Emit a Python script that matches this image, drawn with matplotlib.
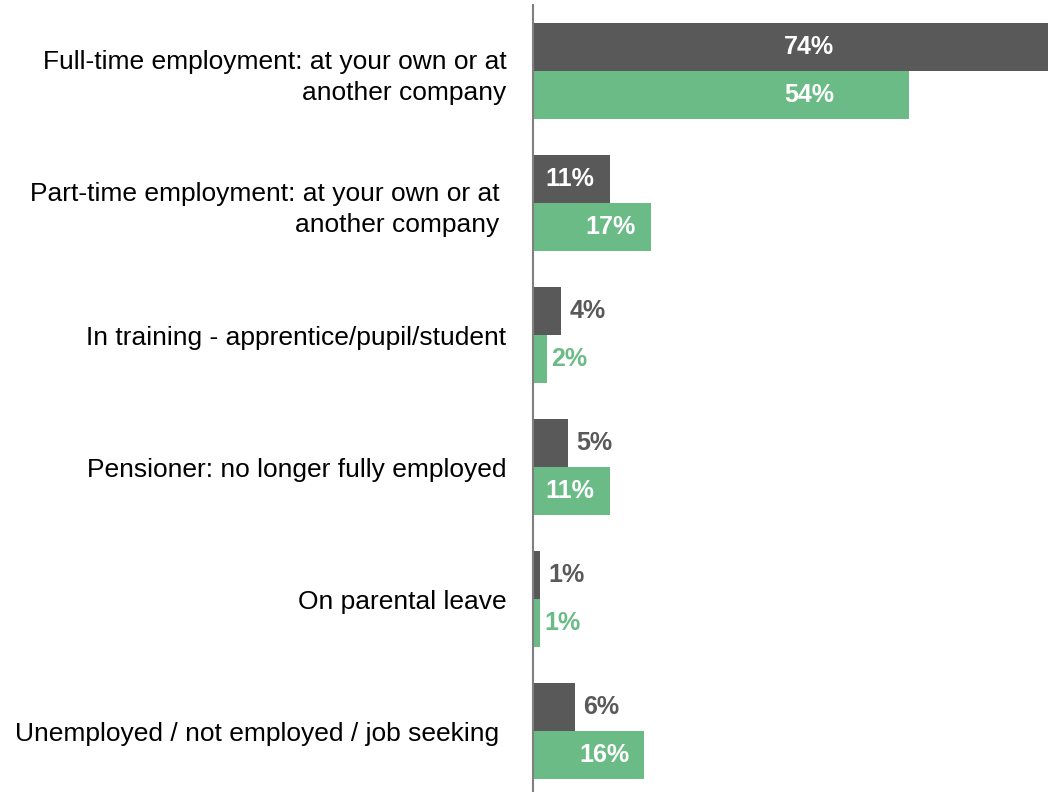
import matplotlib
matplotlib.use("Agg")
import matplotlib.pyplot as plt
import numpy as np

plt.rcParams["font.family"] = ["Liberation Sans", "DejaVu Sans"]

categories = [
    "Full-time employment: at your own or at\nanother company",
    "Part-time employment: at your own or at \nanother company ",
    "In training - apprentice/pupil/student",
    "Pensioner: no longer fully employed",
    "On parental leave",
    "Unemployed / not employed / job seeking ",
]
series_dark = [74, 11, 4, 5, 1, 6]
series_green = [54, 17, 2, 11, 1, 16]

DARK = "#595959"
GREEN = "#6bbb87"
AXIS = "#7f7f7f"

W, H = 1048, 792
fig = plt.figure(figsize=(W / 100, H / 100), dpi=100)
# plot area starts at the category axis line
ax = fig.add_axes([533 / W, -5 / H, 1 - 533 / W, 792 / H])

y = np.arange(len(categories))
bar_h = 0.364
ax.barh(y - bar_h / 2, series_dark, height=bar_h, color=DARK)
ax.barh(y + bar_h / 2, series_green, height=bar_h, color=GREEN)

ax.set_xlim(0, 74)
ax.set_ylim(len(categories) - 0.5, -0.5)

for spine in ["top", "right", "bottom"]:
    ax.spines[spine].set_visible(False)
ax.spines["left"].set_color(AXIS)
ax.spines["left"].set_linewidth(1.5)
ax.set_xticks([])
ax.set_yticks(y)
ax.set_yticklabels(categories, fontsize=19, linespacing=1.42, color="black")
ax.tick_params(axis="y", length=0, pad=19)


def label_bars(vals, offset, color):
    for i, v in enumerate(vals):
        yy = y[i] + offset
        txt = f"{v}%"
        if v >= 10:
            # inside end, white text (long bars keep the label in the visible part)
            ax.text(min(v, 45.5) - 2.2, yy, txt, ha="right", va="center",
                    color="white", fontsize=18, fontweight="bold")
        else:
            ax.annotate(txt, (v, yy), xytext=(6 if color == DARK else 3, 0),
                        textcoords="offset points", ha="left", va="center",
                        color=color, fontsize=18, fontweight="bold")


label_bars(series_dark, -bar_h / 2, DARK)
label_bars(series_green, bar_h / 2, GREEN)

fig.savefig("out.png", dpi=100)
